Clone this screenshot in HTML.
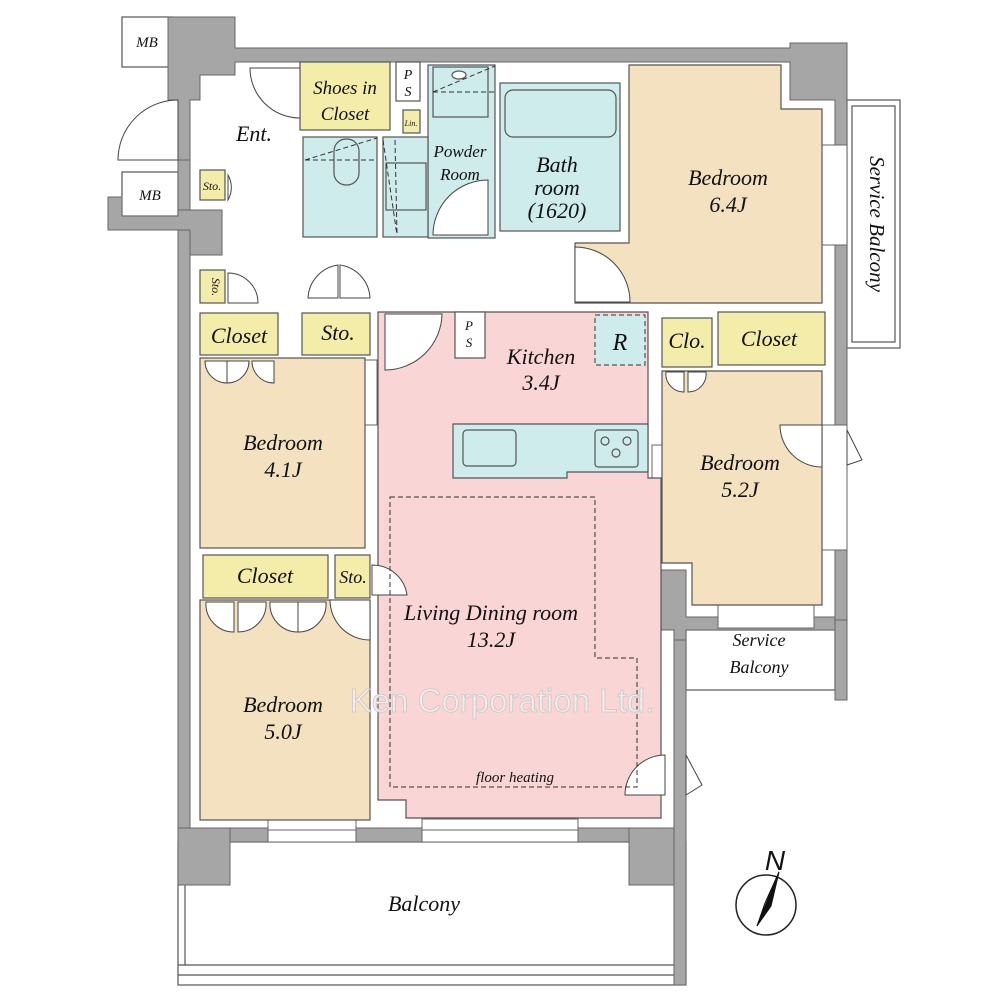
<!DOCTYPE html>
<html><head><meta charset="utf-8"><style>
html,body{margin:0;padding:0;background:#fff;}
svg{display:block}
text{font-family:"Liberation Serif",serif;font-style:italic;fill:#111;}
</style></head><body>
<svg width="1000" height="1000" viewBox="0 0 1000 1000" xmlns="http://www.w3.org/2000/svg">
<g stroke="#555" stroke-width="1.2" fill="#fff">
<rect x="122" y="17" width="50" height="50"/>
<rect x="122" y="172" width="56" height="44"/>
<rect x="847" y="100" width="53" height="248"/>
<rect x="852" y="106" width="43" height="236" fill="none"/>
<rect x="686" y="630" width="149" height="60"/>
<rect x="178" y="842" width="508" height="143"/>
<line x1="185" y1="885" x2="185" y2="965"/>
<line x1="178" y1="965" x2="686" y2="965"/>
<line x1="178" y1="975" x2="686" y2="975"/>
</g>
<g fill="#a6a6a6" stroke="#666" stroke-width="1">
<path d="M168,17 H235 V48 H790 V43 H847 V620 H835 V100 H790 V62 H235 V75 H200 V100 H190 V160 H178 V100 H168 Z"/>
<rect x="178" y="160" width="12" height="670"/>
<path d="M108,197 H122 V216 H178 V210 H222 V255 H190 V230 H108 Z"/>
<rect x="178" y="828" width="502" height="14"/>
<rect x="178" y="828" width="52" height="57"/>
<rect x="629" y="828" width="51" height="57"/>
<rect x="674" y="630" width="12" height="355"/>
<path d="M629,570 H686 V617 H835 V630 H686 V640 H674 V630 H640 V580 H629 Z"/>
<rect x="835" y="620" width="12" height="80"/>
</g>
<g fill="#fff" stroke="#666" stroke-width="1">
<rect x="268" y="819" width="88" height="23"/>
<line x1="268" y1="830" x2="356" y2="830"/>
<rect x="422" y="819" width="156" height="23"/>
<line x1="422" y1="830" x2="578" y2="830"/>
<rect x="718" y="605" width="96" height="23"/>
<rect x="822" y="145" width="25" height="100"/>
<rect x="822" y="425" width="25" height="125"/>
<rect x="365" y="360" width="12" height="65"/>
<rect x="652" y="445" width="10" height="115"/>
</g>
<g stroke="#555" stroke-width="1.2">
<path fill="#f3e1bf" d="M629,65 H781 V109 H822 V303 H575 V243 H629 Z"/>
<rect fill="#cdeceb" x="500" y="83" width="120" height="148"/>
<rect fill="#cdeceb" x="505" y="90" width="111" height="47" rx="8"/>
<rect fill="#cdeceb" x="428" y="65" width="67" height="173"/>
<rect fill="none" x="433" y="67" width="55" height="50"/>
<ellipse cx="459" cy="75" rx="7" ry="4" fill="#fff"/>
<rect fill="#cdeceb" x="303" y="137" width="74" height="100"/>
<rect fill="#cdeceb" x="383" y="137" width="45" height="100"/>
<rect fill="#cdeceb" x="386" y="163" width="40" height="47"/>
<rect fill="#cdeceb" x="334" y="139" width="25" height="46" rx="12"/>
<rect fill="#f4eda9" x="300" y="62" width="90" height="68"/>
<rect fill="#fff" x="396" y="62" width="24" height="39"/>
<rect fill="#f4eda9" x="403" y="110" width="17" height="23"/>
<rect fill="#f4eda9" x="200" y="170" width="25" height="30"/>
<rect fill="#f4eda9" x="200" y="270" width="25" height="33"/>
<rect fill="#f4eda9" x="200" y="313" width="78" height="42"/>
<rect fill="#f4eda9" x="302" y="313" width="68" height="42"/>
<rect fill="#f3e1bf" x="200" y="358" width="165" height="190"/>
<rect fill="#f4eda9" x="203" y="555" width="125" height="43"/>
<rect fill="#f4eda9" x="335" y="555" width="35" height="43"/>
<rect fill="#f3e1bf" x="200" y="600" width="170" height="220"/>
<path fill="#f9d5d5" d="M378,312 H648 V478 H661 V818 H406 V800 H378 Z"/>
<path fill="#cdeceb" d="M453,424 H648 V472 H567 V478 H453 Z"/>
<rect fill="#cdeceb" x="595" y="315" width="50" height="50" stroke-dasharray="5,3"/>
<rect fill="#fff" x="455" y="312" width="30" height="46"/>
<rect fill="#cdeceb" x="463" y="430" width="53" height="36" rx="4"/>
<rect fill="#cdeceb" x="595" y="430" width="43" height="37" rx="3"/>
<circle cx="605" cy="441" r="4" fill="none"/><circle cx="627" cy="441" r="4" fill="none"/><circle cx="616" cy="453" r="4" fill="none"/>
<path fill="#f3e1bf" d="M662,371 H822 V605 H692 V563 H662 Z"/>
<rect fill="#f4eda9" x="662" y="318" width="50" height="49"/>
<rect fill="#f4eda9" x="718" y="312" width="107" height="53"/>
</g>
<g fill="#fff" stroke="#444" stroke-width="1">
<path d="M250,68 A50,50 0 0 0 300,118 V68 Z"/>
<path d="M178,100 A60,60 0 0 0 118,160 H178 Z"/>
<path d="M228,175 A25,25 0 0 1 228,200 Z"/>
<path d="M228,273 A30,30 0 0 1 258,303 H228 Z"/>
<path d="M385,314 V370 A57,57 0 0 0 442,314 Z"/>
<path d="M488,180 A55,55 0 0 0 433,235 H488 Z"/>
<path d="M575,247 A55,55 0 0 1 630,302 H575 Z"/>
<path d="M308,298 A35,35 0 0 1 338,265 V298 Z"/>
<path d="M370,298 A35,35 0 0 0 340,265 V298 Z"/>
<path d="M372,565 A35,35 0 0 1 407,595 H372 Z"/>
<path d="M330,600 A40,40 0 0 0 370,640 V600 Z"/>
<path d="M206,602 A28,28 0 0 0 234,632 V602 Z"/>
<path d="M266,602 A28,28 0 0 1 238,632 V602 Z"/>
<path d="M270,602 A28,28 0 0 0 298,632 V602 Z"/>
<path d="M326,602 A28,28 0 0 1 298,632 V602 Z"/>
<path d="M205,361 A22,22 0 0 0 227,383 V361 Z"/>
<path d="M249,361 A22,22 0 0 1 227,383 V361 Z"/>
<path d="M252,361 A22,22 0 0 0 274,383 V361 Z"/>
<path d="M666,372 A18,18 0 0 0 684,392 V372 Z"/>
<path d="M706,372 A18,18 0 0 1 688,392 V372 Z"/>
<path d="M822,425 H780 A42,42 0 0 0 822,467 Z"/>
<path d="M665,755 A40,40 0 0 0 625,795 H665 Z"/>
<path d="M686,755 L702,785 L686,795 Z"/>
<path d="M847,430 L862,460 L847,465 Z"/>
</g>
<g fill="none" stroke="#333" stroke-width="1" stroke-dasharray="5,3">
<path d="M390,497 H595 V658 H637 V787 H390 Z"/>
<line x1="433" y1="92" x2="495" y2="92"/>
<line x1="433" y1="92" x2="495" y2="66"/>
<line x1="305" y1="160" x2="377" y2="160"/>
<line x1="305" y1="160" x2="377" y2="138"/>
<line x1="395" y1="140" x2="397" y2="235"/>
<line x1="383" y1="140" x2="397" y2="235"/>
</g>
<text x="502" y="712" text-anchor="middle" style="font-family:'Liberation Sans',sans-serif;font-style:normal;font-size:33px;fill:#f6eaea;stroke:#c8c8c8;stroke-width:0.8">Ken Corporation Ltd.</text>
<g font-size="22" text-anchor="middle">
<text x="147" y="47" font-size="15">MB</text>
<text x="150" y="200" font-size="15">MB</text>
<text x="254" y="141" font-size="22">Ent.</text>
<text x="345" y="94" font-size="19">Shoes in</text>
<text x="345" y="120" font-size="19">Closet</text>
<text x="408" y="79" font-size="14">P</text>
<text x="408" y="96" font-size="14">S</text>
<text x="411" y="126" font-size="8">Lin.</text>
<text x="460" y="157" font-size="17">Powder</text>
<text x="460" y="180" font-size="17">Room</text>
<text x="557" y="172">Bath</text>
<text x="557" y="195">room</text>
<text x="557" y="218">(1620)</text>
<text x="728" y="185">Bedroom</text>
<text x="728" y="212">6.4J</text>
<text x="212" y="190" font-size="12">Sto.</text>
<text x="212" y="287" font-size="12" transform="rotate(90 212 287)">Sto.</text>
<text x="239" y="343">Closet</text>
<text x="338" y="340">Sto.</text>
<text x="283" y="450">Bedroom</text>
<text x="283" y="477">4.1J</text>
<text x="265" y="583">Closet</text>
<text x="353" y="583" font-size="18">Sto.</text>
<text x="283" y="712">Bedroom</text>
<text x="283" y="739">5.0J</text>
<text x="469" y="330" font-size="13">P</text>
<text x="469" y="347" font-size="13">S</text>
<text x="541" y="364">Kitchen</text>
<text x="541" y="390">3.4J</text>
<text x="620" y="350" font-size="24">R</text>
<text x="687" y="348">Clo.</text>
<text x="769" y="346">Closet</text>
<text x="740" y="470">Bedroom</text>
<text x="740" y="497">5.2J</text>
<text x="491" y="620">Living Dining room</text>
<text x="491" y="647">13.2J</text>
<text x="515" y="782" font-size="15">floor heating</text>
<text x="759" y="646" font-size="18">Service</text>
<text x="759" y="673" font-size="18">Balcony</text>
<text x="424" y="911">Balcony</text>
<text x="870" y="224" font-size="21" transform="rotate(90 870 224)">Service Balcony</text>
</g>
<circle cx="766" cy="905" r="30" fill="#fff" stroke="#222" stroke-width="1.5"/>
<path d="M779,872 L757,926 L765,903 Z" fill="#fff" stroke="#111" stroke-width="1"/>
<path d="M779,872 L757,926 L771,906 Z" fill="#111" stroke="#111" stroke-width="1"/>
<text x="775" y="870" font-size="28" text-anchor="middle" style="font-family:'Liberation Sans',sans-serif">N</text>
</svg>
</body></html>
